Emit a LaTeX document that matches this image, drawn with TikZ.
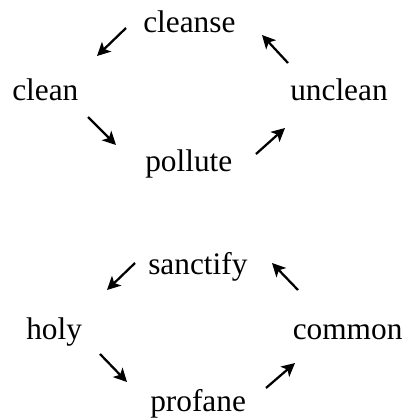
\documentclass[tikz,border=0pt]{standalone}
\usepackage{fontspec}
\setmainfont{Liberation Serif}
\usetikzlibrary{arrows.meta}
\begin{document}
\begin{tikzpicture}[x=0.75pt,y=-0.75pt,
  word/.style={anchor=base west,inner sep=0pt,font=\fontsize{23.5}{28}\selectfont},
  arr/.style={line width=1.7pt,-{Stealth[length=10pt,width=10pt,inset=2.5pt]}}]
\useasboundingbox (0,0) rectangle (404,418);
% top cycle
\node[word] (cleanse) at (143,32) {cleanse};
\node[word] (clean) at (12,100) {clean};
\node[word] (unclean) at (290,100) {unclean};
\node[word] (pollute) at (145,171) {pollute};
\coordinate (a1s) at (126,28); \coordinate (a1e) at (97,56);
\coordinate (a2s) at (88,117); \coordinate (a2e) at (116,145);
\coordinate (a3s) at (256,154); \coordinate (a3e) at (285,128);
\coordinate (a4s) at (288,63); \coordinate (a4e) at (262,35);
\draw[arr] (a1s) -- (a1e);
\draw[arr] (a2s) -- (a2e);
\draw[arr] (a3s) -- (a3e);
\draw[arr] (a4s) -- (a4e);
% bottom cycle
\node[word] (sanctify) at (148,274) {sanctify};
\node[word] (holy) at (26,339) {holy};
\node[word] (common) at (292.5,339) {common};
\node[word] (profane) at (150,411) {profane};
\coordinate (b1s) at (135,263); \coordinate (b1e) at (107,290);
\coordinate (b2s) at (100,354); \coordinate (b2e) at (127,382);
\coordinate (b3s) at (266,388); \coordinate (b3e) at (295,363);
\coordinate (b4s) at (298,290); \coordinate (b4e) at (272,263);
\draw[arr] (b1s) -- (b1e);
\draw[arr] (b2s) -- (b2e);
\draw[arr] (b3s) -- (b3e);
\draw[arr] (b4s) -- (b4e);
\end{tikzpicture}
\end{document}
